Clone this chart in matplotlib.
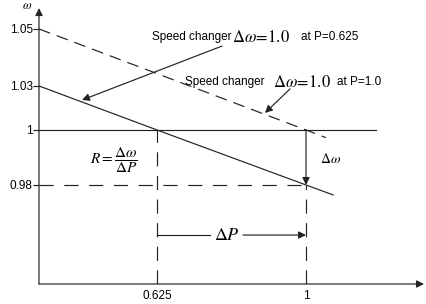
import numpy as np
import matplotlib
matplotlib.use("Agg")
import matplotlib.pyplot as plt

plt.rcParams['mathtext.fontset'] = 'stix'
plt.rcParams['font.family'] = ['Liberation Sans', 'DejaVu Sans']

# ---- data (schematic values) ----
droop_P = [0.328, 0.625, 1.0, 1.068]
droop_w = [1.03, 1.0, 0.98, 0.9764]
shift_P = [0.328, 1.0, 1.05]
shift_w = [1.05, 1.0, 0.9972]
nominal_P = [0.328, 1.176]
nominal_w = [1.0, 1.0]
P_lo, P_hi = 0.625, 1.0
w_lo, w_hi = 0.98, 1.0
xtick_vals = [0.625, 1.0]
xtick_labels = ['0.625', '1']
ytick_vals = [0.98, 1.0, 1.03, 1.05]
ytick_labels = ['0.98', '1', '1.03', '1.05']

# schematic (non-uniform) omega axis
_v = np.array([0.90, 0.98, 1.0, 1.03, 1.05, 1.10])
_u = np.array([-121.0, 99.0, 154.0, 198.0, 255.0, 397.5])
def fwd(v):
    return np.interp(v, _v, _u)
def inv(u):
    return np.interp(u, _u, _v)

fig = plt.figure(figsize=(4.26, 3.04), dpi=100)
ax = fig.add_axes([39/426, 20/304, 387/426, 279/304])
ax.set_yscale('function', functions=(fwd, inv))
ax.set_xlim(0.328, 1.302)
ax.set_ylim(0.944, 1.0584)
for s in ax.spines.values():
    s.set_visible(False)

lc = '#222222'
lw = 0.85
ax.plot(droop_P, droop_w, color=lc, lw=lw)
ax.plot(shift_P, shift_w, color=lc, lw=lw, dashes=(10, 6))
ax.plot(nominal_P, nominal_w, color=lc, lw=lw)
ax.plot([0.328, P_hi], [w_lo, w_lo], color=lc, lw=lw, dashes=(12, 9))
ax.plot([P_lo, P_lo], [0.944, w_hi], color=lc, lw=lw, dashes=(12, 8))
ax.plot([P_hi, P_hi], [0.944, w_lo], color=lc, lw=lw, dashes=(12, 8))

ap = dict(arrowstyle='-|>', color=lc, lw=lw, mutation_scale=11, shrinkA=0, shrinkB=0)
# axes arrows
ax.annotate('', xy=(0.9948, 0), xytext=(0, 0), xycoords='axes fraction',
            arrowprops=ap, annotation_clip=False)
ax.annotate('', xy=(0, 0.989), xytext=(0, 0), xycoords='axes fraction',
            arrowprops=ap, annotation_clip=False)
ax.text(-0.031, 0.996, r'$\omega$', transform=ax.transAxes, ha='center', va='center', fontsize=9)

# delta omega arrow
ax.annotate('', xy=(P_hi, w_lo), xytext=(P_hi, w_hi), arrowprops=ap)
ax.text(1.063, 0.9895, r'$\Delta\omega$', ha='center', va='center', fontsize=10)

# delta P arrow
yP = 0.9618
ax.plot([P_lo, 0.7584], [yP, yP], color=lc, lw=lw)
ax.annotate('', xy=(P_hi, yP), xytext=(0.8415, yP), arrowprops=ap)
ax.text(0.8012, yP, r'$\Delta P$', ha='center', va='center', fontsize=13)

# R formula
ax.text(0.5168, 0.9887, r'$R=\dfrac{\Delta\omega}{\Delta P}$', ha='center', va='center', fontsize=11)

# speed changer annotations
ax.annotate('', xy=(0.4362, 1.0204), xytext=(0.7886, 1.044), arrowprops=ap)
ax.annotate('', xy=(0.8968, 1.0116), xytext=(0.9598, 1.028), arrowprops=ap)

y1 = 1.0472
ax.text(0.6124, y1, 'Speed changer', ha='left', va='center', fontsize=8.5)
ax.text(0.8138, y1, r'$\Delta\omega\!=\!1.0$', ha='left', va='center', fontsize=12)
ax.text(0.9874, y1, 'at P=0.625', ha='left', va='center', fontsize=8.5)
y2 = 1.0314
ax.text(0.6955, y2, 'Speed changer', ha='left', va='center', fontsize=8.5)
ax.text(0.9171, y2, r'$\Delta\omega\!=\!1.0$', ha='left', va='center', fontsize=12)
ax.text(1.078, y2, 'at P=1.0', ha='left', va='center', fontsize=8.5)

ax.set_xticks(xtick_vals)
ax.set_xticklabels(xtick_labels)
ax.set_yticks(ytick_vals)
ax.set_yticklabels(ytick_labels)
ax.minorticks_off()
ax.tick_params(axis='x', length=0, pad=4, labelsize=8.5)
ax.tick_params(axis='y', length=4, width=lw, color=lc, pad=0.5, labelsize=8.5)

fig.savefig('out.png', dpi=100)
